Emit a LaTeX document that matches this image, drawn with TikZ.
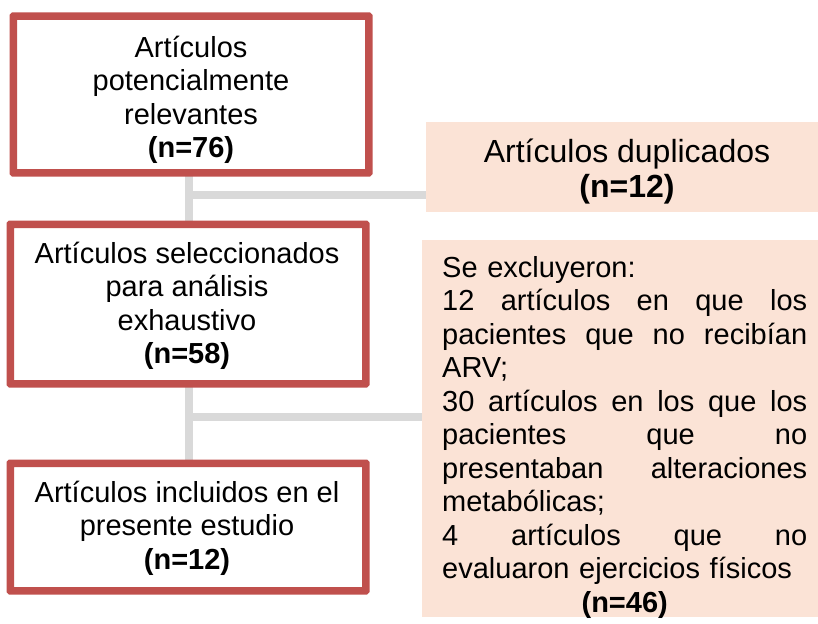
\documentclass[tikz,border=0pt]{standalone}
\usepackage{fontspec}
\setmainfont{Liberation Sans}
\definecolor{boxred}{HTML}{C0504D}
\definecolor{peach}{HTML}{FBE3D6}
\definecolor{linegray}{HTML}{D9D9D9}
\newcommand{\jline}[1]{\leavevmode\hbox to 365pt{#1}}
\begin{document}
\begin{tikzpicture}[x=1pt,y=-1pt,
  redbox/.style={draw=boxred, line width=5pt, fill=white, rounded corners=1pt, inner sep=0pt},
  peachbox/.style={fill=peach, draw=none, inner sep=0pt},
  txt/.style={inner sep=0pt, align=center, font=\fontsize{29}{33.5}\selectfont},
  conn/.style={draw=linegray, line width=8pt}
]
\useasboundingbox (0,0) rectangle (818,623);
\coordinate (j1) at (189,195);
\coordinate (j2) at (189,417);
% boxes
\node[redbox, minimum width=353pt, minimum height=154pt] (b1) at (191,94.5) {};
\node[redbox, minimum width=353pt, minimum height=157pt] (b2) at (188,304) {};
\node[redbox, minimum width=353pt, minimum height=125pt] (b3) at (188,527) {};
\node[peachbox, minimum width=392pt, minimum height=90pt] (dA) at (622,167) {};
\node[peachbox, minimum width=396pt, minimum height=377pt] (dB) at (620,428.5) {};
% connectors
\draw[conn] (b1.south -| j1) -- (b2.north -| j1);
\draw[conn] (b2.south -| j1) -- (b3.north -| j1);
\draw[conn] ([xshift=-4pt]j1) -- (j1 -| dA.west);
\draw[conn] ([xshift=-4pt]j2) -- (j2 -| dB.west);
% redraw box borders over the connector ends
\draw[draw=boxred, line width=5pt, rounded corners=1pt] (b1.south west) rectangle (b1.north east);
\draw[draw=boxred, line width=5pt, rounded corners=1pt] (b2.south west) rectangle (b2.north east);
\draw[draw=boxred, line width=5pt, rounded corners=1pt] (b3.south west) rectangle (b3.north east);
% texts
\node[txt, anchor=north] (t1) at (191,27) {\rule{0pt}{30pt}Artículos\\potencialmente\\relevantes\\\textbf{(n=76)}};
\node[txt, anchor=north] (t2) at (187,233) {\rule{0pt}{30pt}Artículos seleccionados\\para análisis\\exhaustivo\\\textbf{(n=58)}};
\node[txt, anchor=north] (t3) at (187,472) {\rule{0pt}{30pt}Artículos incluidos en el\\presente estudio\\\textbf{(n=12)}};
\node[txt, anchor=north, font=\fontsize{32}{35}\selectfont] (tA) at (627,129) {\rule{0pt}{33pt}Artículos duplicados\\\textbf{(n=12)}};
\node[inner sep=0pt, anchor=north west, text width=365pt, align=left, font=\fontsize{29}{33.5}\selectfont] (tB) at (442,247) {\rule{0pt}{30pt}Se excluyeron:\\
\jline{12\hfill artículos\hfill en\hfill que\hfill los}\\
\jline{pacientes\hfill que\hfill no\hfill recibían}\\
ARV;\\
\jline{30\hfill artículos\hfill en\hfill los\hfill que\hfill los}\\
\jline{pacientes\hfill que\hfill no}\\
\jline{presentaban\hfill alteraciones}\\
metabólicas;\\
\jline{4\hfill artículos\hfill que\hfill no}\\
evaluaron ejercicios físicos\\
\jline{\hfill\textbf{(n=46)}\hfill}};
\end{tikzpicture}
\end{document}
